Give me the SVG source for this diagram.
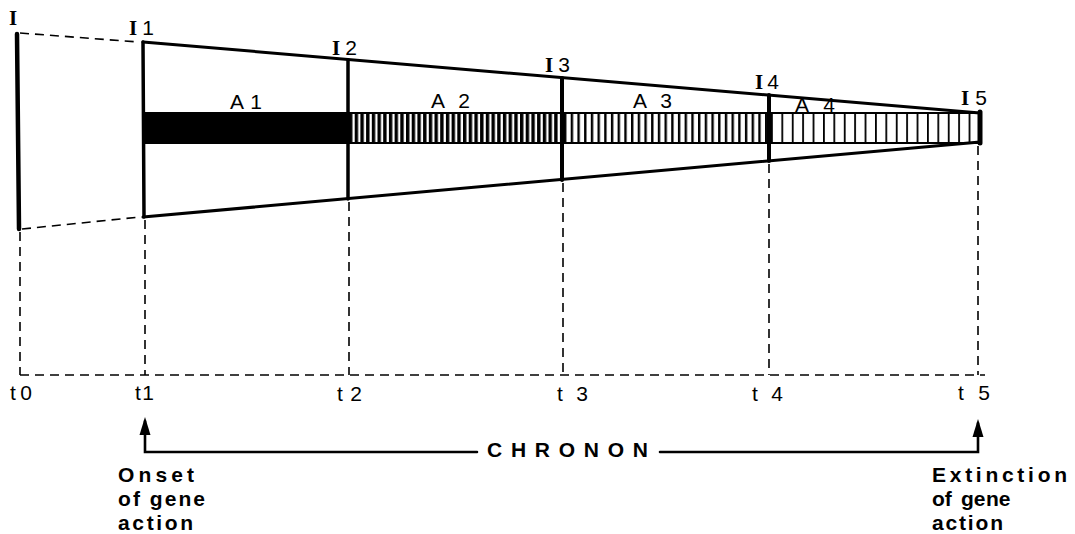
<svg xmlns="http://www.w3.org/2000/svg" width="1075" height="534" viewBox="0 0 1075 534">
<style>
.solid{stroke:#000;fill:none;stroke-linecap:round}
.dash{stroke:#000;stroke-width:1.6;fill:none;stroke-dasharray:9 6}
.lbl{font-family:"Liberation Sans",Arial,sans-serif;font-size:21px;fill:#000}
.ser{font-family:"Liberation Serif","Times New Roman",serif;font-weight:bold}
.bold{font-weight:bold}
</style>
<defs>
<pattern id="pA2" x="349" y="0" width="5.7" height="40" patternUnits="userSpaceOnUse">
<rect x="0" y="0" width="3.4" height="40" fill="#000"/>
</pattern>
<pattern id="pA3" x="564" y="0" width="6.7" height="40" patternUnits="userSpaceOnUse">
<rect x="0" y="0" width="2.4" height="40" fill="#000"/>
</pattern>
<pattern id="pA4" x="771" y="0" width="10.4" height="40" patternUnits="userSpaceOnUse">
<rect x="0" y="0" width="1.8" height="40" fill="#000"/>
</pattern>
</defs>

<g id="connectors">
<line class="dash" x1="20" y1="33" x2="138" y2="42"/>
<line class="dash" x1="22" y1="229" x2="140" y2="217"/>
<line class="dash" x1="20" y1="232" x2="20" y2="375"/>
<line class="dash" x1="145" y1="220" x2="145" y2="375"/>
<line class="dash" x1="349" y1="202" x2="349" y2="375"/>
<line class="dash" x1="563" y1="183" x2="563" y2="375"/>
<line class="dash" x1="769" y1="164" x2="769" y2="375"/>
<line class="dash" x1="978" y1="146" x2="978" y2="375"/>
<line class="dash" x1="20" y1="375" x2="985" y2="375"/>
<path class="solid" stroke-width="2.6" d="M145,421 L145,452 L477,452"/>
<path class="solid" stroke-width="2.6" d="M660,452 L978,452 L978,423"/>
<path d="M145,417 L150.5,435 L139.5,435 Z" fill="#000"/>
<path d="M978,419 L983.5,437 L972.5,437 Z" fill="#000"/>
</g>

<g id="node-I0">
<line class="solid" stroke-width="4.5" x1="17" y1="34" x2="19" y2="229"/>
<text class="lbl ser" x="9" y="25">I</text>
</g>

<g id="node-trapezoid">
<path class="solid" stroke-width="3" d="M143,42 L980,113 M143,217 L980,142"/>
</g>

<g id="node-band">
<rect x="143" y="113" width="206" height="30" fill="#000"/>
<rect x="349" y="113" width="215" height="30" fill="url(#pA2)"/>
<rect x="564" y="113" width="207" height="30" fill="url(#pA3)"/>
<rect x="771" y="113" width="209" height="30" fill="url(#pA4)"/>
<rect x="143" y="113" width="837" height="30" fill="none" stroke="#000" stroke-width="2"/>
</g>

<g id="node-I1">
<line class="solid" stroke-width="3.5" x1="143" y1="42" x2="144" y2="217"/>
<text class="lbl" x="129" y="35"><tspan class="ser">I</tspan><tspan dx="5">1</tspan></text>
</g>
<g id="node-I2">
<line class="solid" stroke-width="3.5" x1="348" y1="60" x2="348" y2="199"/>
<text class="lbl" x="332" y="55"><tspan class="ser">I</tspan><tspan dx="5">2</tspan></text>
</g>
<g id="node-I3">
<line class="solid" stroke-width="4" x1="562" y1="78" x2="562" y2="180"/>
<text class="lbl" x="545" y="72"><tspan class="ser">I</tspan><tspan dx="5">3</tspan></text>
</g>
<g id="node-I4">
<line class="solid" stroke-width="4" x1="769" y1="95" x2="769" y2="161"/>
<text class="lbl" x="755" y="89"><tspan class="ser">I</tspan><tspan dx="4">4</tspan></text>
</g>
<g id="node-I5">
<line class="solid" stroke-width="5" x1="980" y1="112" x2="980" y2="143"/>
<text class="lbl" x="961" y="105"><tspan class="ser">I</tspan><tspan dx="6">5</tspan></text>
</g>

<g id="area-labels">
<text class="lbl" x="230" y="109" font-size="17" textLength="32" lengthAdjust="spacing">A 1</text>
<text class="lbl" x="431" y="108" font-size="17" textLength="39" lengthAdjust="spacing">A 2</text>
<text class="lbl" x="633" y="108" font-size="17" textLength="39" lengthAdjust="spacing">A 3</text>
<text class="lbl" x="795" y="112" font-size="17" textLength="40" lengthAdjust="spacing">A 4</text>
</g>

<g id="time-labels">
<text class="lbl" x="10" y="400" textLength="22" lengthAdjust="spacing">t0</text>
<text class="lbl" x="135" y="400" textLength="19" lengthAdjust="spacing">t1</text>
<text class="lbl" x="337" y="401" textLength="25" lengthAdjust="spacing">t2</text>
<text class="lbl" x="557" y="401" textLength="31" lengthAdjust="spacing">t3</text>
<text class="lbl" x="752" y="401" textLength="31" lengthAdjust="spacing">t4</text>
<text class="lbl" x="958" y="400" textLength="32" lengthAdjust="spacing">t5</text>
</g>

<g id="chronon">
<text class="lbl bold" x="487" y="457" font-size="19" textLength="161" lengthAdjust="spacing">CHRONON</text>
</g>

<g id="onset-label">
<text class="lbl bold" x="118" y="482" font-size="20" textLength="76" lengthAdjust="spacing">Onset</text>
<text class="lbl bold" x="118" y="506" font-size="20" textLength="87" lengthAdjust="spacing">of gene</text>
<text class="lbl bold" x="118" y="530" font-size="20" textLength="75" lengthAdjust="spacing">action</text>
</g>

<g id="extinction-label">
<text class="lbl bold" x="932" y="482" font-size="20" textLength="135" lengthAdjust="spacing">Extinction</text>
<text class="lbl bold" y="506" font-size="19"><tspan x="932">of</tspan><tspan x="961">ge</tspan><tspan x="986">ne</tspan></text>
<text class="lbl bold" x="932" y="530" font-size="20" textLength="71" lengthAdjust="spacing">action</text>
</g>
</svg>
